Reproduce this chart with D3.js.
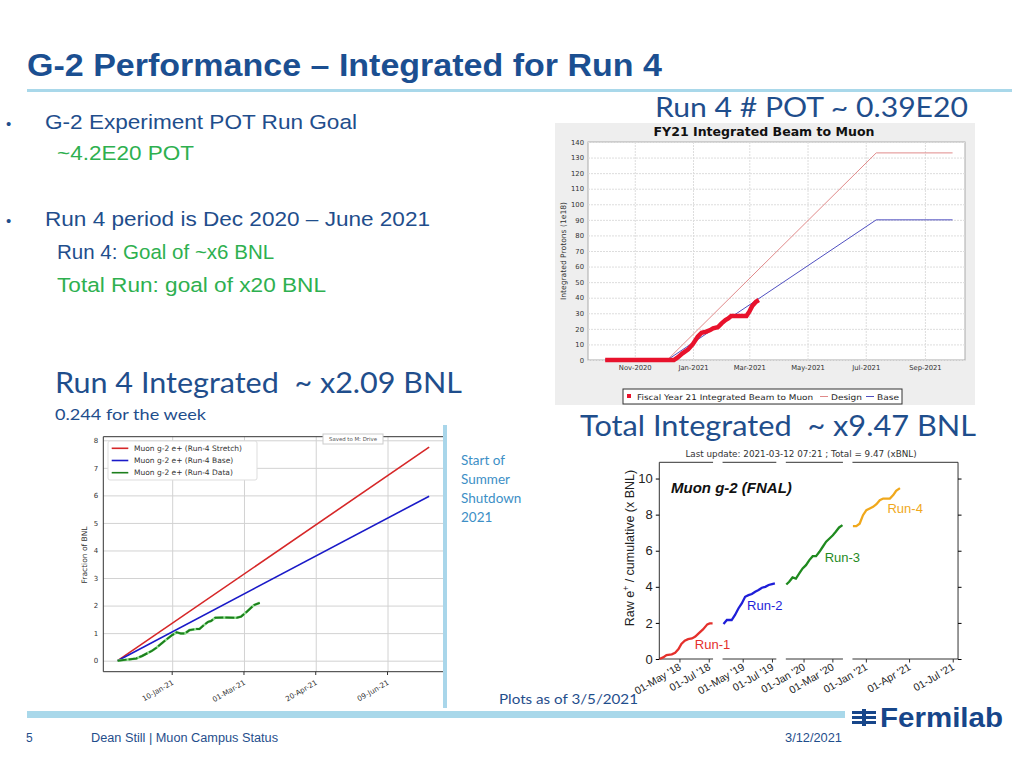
<!DOCTYPE html>
<html>
<head>
<meta charset="utf-8">
<script src="https://cdn.jsdelivr.net/npm/d3@7"></script>
<style>
  body { margin: 0; background: #fff; }
  svg { display: block; }
  text { font-family: 'Liberation Sans', Arial, sans-serif; }
  .chart text { font-family: 'DejaVu Sans', sans-serif; }
</style>
</head>
<body>
<svg id="slide" width="1024" height="768"></svg>
<script>
var parseDate = d3.timeParse('%Y-%m-%d');

// ---- FY21 integrated beam to muon (1e18 protons) ----
var fyDates = ['2020-10-01', '2020-12-12', '2020-12-16', '2020-12-21', '2020-12-27', '2021-01-01',
  '2021-01-06', '2021-01-10', '2021-01-15', '2021-01-19', '2021-01-22', '2021-01-27', '2021-01-31',
  '2021-02-04', '2021-02-07', '2021-02-10', '2021-02-15', '2021-02-20', '2021-02-26', '2021-03-01',
  '2021-03-04', '2021-03-08', '2021-03-11'];
var fyBeam = [0, 0, 1.7, 4.3, 6.8, 10.3, 15, 17.5, 18.2, 19.2, 20.3, 21, 23.5, 25.6, 26.7, 28.2,
  28.2, 28.2, 28.2, 31, 34.6, 37.4, 38.5];
var fyPlanDates = ['2020-10-01', '2020-12-05', '2021-07-12', '2021-09-30'];
var fyDesign = [0, 0, 133, 133];
var fyBase = [0, 0, 90, 90];
var fyTicks = ['2020-11-01', '2021-01-01', '2021-03-01', '2021-05-01', '2021-07-01', '2021-09-01'];
var fyLegend = ['Fiscal Year 21 Integrated Beam to Muon', 'Design', 'Base'];

// ---- Run-4 fraction of BNL ----
var r4PlanDates = ['2020-12-03', '2021-07-08'];
var r4Stretch = [0, 7.75];
var r4Base = [0, 5.97];
var r4Dates = ['2020-12-03', '2020-12-16', '2020-12-20', '2020-12-27', '2020-12-30', '2021-01-04',
  '2021-01-10', '2021-01-13', '2021-01-16', '2021-01-19', '2021-01-22', '2021-01-27', '2021-01-29',
  '2021-02-01', '2021-02-04', '2021-02-06', '2021-02-09', '2021-02-15', '2021-02-24', '2021-02-27',
  '2021-03-03', '2021-03-08', '2021-03-12'];
var r4Data = [0, 0.08, 0.17, 0.36, 0.47, 0.69, 0.93, 1.03, 0.99, 0.99, 1.11, 1.15, 1.15, 1.29,
  1.41, 1.44, 1.56, 1.57, 1.56, 1.60, 1.78, 2.02, 2.10];
var r4Ticks = ['2021-01-10', '2021-03-01', '2021-04-20', '2021-06-09'];
var r4Legend = ['Muon g-2 e+ (Run-4 Stretch)', 'Muon g-2 e+ (Run-4 Base)', 'Muon g-2 e+ (Run-4 Data)'];

// ---- all runs, cumulative x BNL ----
var runNames = ['Run-1', 'Run-2', 'Run-3', 'Run-4'];
var runSpans = [['2018-03-19', '2018-07-09'], ['2019-03-19', '2019-07-09'],
  ['2019-11-24', '2020-03-22'], ['2020-12-03', '2021-07-11']];
var runTicks = [['2018-05-01', '2018-07-01'], ['2019-05-01', '2019-07-01'],
  ['2020-01-01', '2020-03-01'], ['2021-01-01', '2021-04-01', '2021-07-01']];
var run1Dates = ['2018-03-19', '2018-03-27', '2018-04-03', '2018-04-14', '2018-04-21', '2018-04-28',
  '2018-05-04', '2018-05-11', '2018-05-18', '2018-05-26', '2018-06-02', '2018-06-09', '2018-06-18',
  '2018-06-27', '2018-07-02', '2018-07-08'];
var run1Vals = [0, 0.09, 0.22, 0.26, 0.35, 0.55, 0.83, 1.01, 1.1, 1.14, 1.24, 1.42, 1.64, 1.92, 1.97, 1.97];
var run2Dates = ['2019-03-21', '2019-03-28', '2019-04-07', '2019-04-14', '2019-04-21', '2019-04-28',
  '2019-05-05', '2019-05-12', '2019-05-19', '2019-05-26', '2019-06-02', '2019-06-09', '2019-06-16',
  '2019-06-23', '2019-06-30', '2019-07-06'];
var run2Vals = [1.94, 2.16, 2.16, 2.44, 2.8, 3.08, 3.45, 3.54, 3.6, 3.73, 3.82, 3.95, 4.0, 4.1, 4.15, 4.19];
var run3Dates = ['2019-11-25', '2019-12-01', '2019-12-08', '2019-12-15', '2019-12-22', '2019-12-29',
  '2020-01-05', '2020-01-12', '2020-01-19', '2020-01-26', '2020-02-02', '2020-02-09', '2020-02-16',
  '2020-02-23', '2020-03-01', '2020-03-07', '2020-03-14', '2020-03-21'];
var run3Vals = [4.13, 4.28, 4.52, 4.46, 4.74, 5.02, 5.2, 5.48, 5.7, 5.7, 5.94, 6.22, 6.5, 6.68, 6.86,
  7.05, 7.29, 7.42];
var run4Dates = ['2020-12-04', '2020-12-11', '2020-12-18', '2020-12-25', '2021-01-01', '2021-01-08',
  '2021-01-15', '2021-01-22', '2021-01-29', '2021-02-05', '2021-02-12', '2021-02-19', '2021-02-26',
  '2021-03-04', '2021-03-12'];
var run4Vals = [7.36, 7.36, 7.5, 7.97, 8.25, 8.34, 8.43, 8.58, 8.8, 8.89, 8.89, 8.89, 9.08, 9.32, 9.47];

var zip = function(dates, vals) {
  return dates.map(function(d, i) { return {date: parseDate(d), value: vals[i]}; });
};

var svg = d3.select('#slide');
var BLUE = '#1f4e8c';
var GREEN = '#2eb04f';

// ---------- slide text ----------
var addText = function(x, y, str, size, color, len, family) {
  var t = svg.append('text').attr('x', x).attr('y', y).attr('font-size', size)
    .attr('fill', color).style('white-space', 'pre').text(str);
  if (len) t.attr('textLength', len).attr('lengthAdjust', 'spacingAndGlyphs');
  if (family) t.style('font-family', family);
  return t;
};

addText(27, 76, 'G-2 Performance – Integrated for Run 4', 31, '#1b4f91', 635).attr('font-weight', 'bold');
svg.append('rect').attr('x', 27).attr('y', 89).attr('width', 985).attr('height', 3).attr('fill', '#a9d8ea');
addText(655, 117, 'Run 4 # POT ~ 0.39E20', 27, BLUE, 313, 'Lato');

addText(6, 129, '•', 15, BLUE);
addText(45, 129, 'G-2 Experiment POT Run Goal', 20.5, BLUE, 312);
addText(57, 160, '~4.2E20 POT', 20.5, GREEN, 137);
addText(6, 226, '•', 15, BLUE);
addText(45, 226, 'Run 4 period is Dec 2020 – June 2021', 20.5, BLUE, 385);
var goal = addText(57, 259, 'Run 4: ', 20.5, BLUE);
goal.append('tspan').attr('fill', GREEN).text('Goal of ~x6 BNL');
addText(57, 292, 'Total Run: goal of x20 BNL', 20.5, GREEN, 269);

addText(55, 393, 'Run 4 Integrated  ~ x2.09 BNL', 29, BLUE, 407, 'Lato');
addText(55, 420, '0.244 for the week', 16, BLUE, 151, 'Lato');
addText(580, 436, 'Total Integrated  ~ x9.47 BNL', 29, BLUE, 396, 'Lato');
['Start of', 'Summer', 'Shutdown', '2021'].forEach(function(s, i) {
  addText(461, 465 + i * 19, s, 13.5, '#3d8fc6', null, 'Lato');
});

// ---------- FY21 chart (top right) ----------
var fyG = svg.append('g').attr('class', 'chart');
fyG.append('rect').attr('x', 555).attr('y', 123).attr('width', 420).attr('height', 282).attr('fill', '#eeeeee');
var fyX = d3.scaleTime().domain([parseDate('2020-09-13'), parseDate('2021-10-13')]).range([588, 965]);
var fyY = d3.scaleLinear().domain([0, 140]).range([360, 142]);
fyG.append('rect').attr('x', 588).attr('y', 142).attr('width', 377).attr('height', 218)
  .attr('fill', '#fff').attr('stroke', '#aaa');

var fyYAxis = fyG.append('g').attr('transform', 'translate(588,0)')
  .call(d3.axisLeft(fyY).tickValues(d3.range(0, 141, 10)).tickSize(-377).tickPadding(4));
var fyXAxis = fyG.append('g').attr('transform', 'translate(0,360)')
  .call(d3.axisBottom(fyX).tickValues(fyTicks.map(parseDate)).tickSize(-218).tickPadding(5)
    .tickFormat(d3.timeFormat('%b-%Y')));
[fyYAxis, fyXAxis].forEach(function(a) {
  a.select('.domain').remove();
  a.selectAll('line').attr('stroke', '#ddd').attr('stroke-dasharray', '2,1');
  a.selectAll('text').attr('font-size', 6.8).attr('fill', '#333').style('font-family', 'DejaVu Sans');
});

var fyLine = d3.line().x(function(d) { return fyX(d.date); }).y(function(d) { return fyY(d.value); });
fyG.append('path').attr('d', fyLine(zip(fyPlanDates, fyDesign))).attr('fill', 'none')
  .attr('stroke', '#e08a8a').attr('stroke-width', 1);
fyG.append('path').attr('d', fyLine(zip(fyPlanDates, fyBase))).attr('fill', 'none')
  .attr('stroke', '#5050c0').attr('stroke-width', 1);
fyG.append('path').attr('d', fyLine(zip(fyDates, fyBeam))).attr('fill', 'none')
  .attr('stroke', '#e8122c').attr('stroke-width', 4.5).attr('stroke-linejoin', 'miter');

fyG.append('text').attr('x', 764).attr('y', 136).attr('text-anchor', 'middle').attr('font-size', 11.6)
  .attr('font-weight', 'bold').attr('fill', '#111').attr('textLength', 221)
  .attr('lengthAdjust', 'spacingAndGlyphs').text('FY21 Integrated Beam to Muon');
fyG.append('text').attr('transform', 'translate(566,251) rotate(-90)').attr('text-anchor', 'middle')
  .attr('font-size', 7.6).attr('fill', '#333').text('Integrated Protons (1e18)');

fyG.append('rect').attr('x', 623).attr('y', 389).attr('width', 279).attr('height', 15)
  .attr('fill', '#fff').attr('stroke', '#333');
fyG.append('rect').attr('x', 627).attr('y', 394).attr('width', 4).attr('height', 4).attr('fill', '#e8122c');
fyG.append('line').attr('x1', 820).attr('x2', 828).attr('y1', 396.5).attr('y2', 396.5).attr('stroke', '#e08a8a');
fyG.append('line').attr('x1', 866).attr('x2', 874).attr('y1', 396.5).attr('y2', 396.5).attr('stroke', '#5050c0');
[[637, 176], [831, 31], [877, 22]].forEach(function(p, i) {
  fyG.append('text').attr('x', p[0]).attr('y', 399.5).attr('font-size', 7.8).attr('fill', '#222')
    .attr('textLength', p[1]).attr('lengthAdjust', 'spacingAndGlyphs').text(fyLegend[i]);
});

// ---------- Run-4 chart (bottom left) ----------
var r4G = svg.append('g').attr('class', 'chart');
var r4X = d3.scaleTime().domain([parseDate('2020-11-23'), parseDate('2021-07-18')]).range([103.3, 443.5]);
var r4Y = d3.scaleLinear().domain([-0.4, 8.13]).range([671.7, 436.7]);

var r4YAxis = r4G.append('g').attr('transform', 'translate(103.3,0)')
  .call(d3.axisLeft(r4Y).tickValues(d3.range(0, 9)).tickSize(-340).tickPadding(5));
var r4XAxis = r4G.append('g').attr('transform', 'translate(0,671.7)')
  .call(d3.axisBottom(r4X).tickValues(r4Ticks.map(parseDate)).tickSize(-235).tickFormat(''));
[r4YAxis, r4XAxis].forEach(function(a) {
  a.select('.domain').remove();
  a.selectAll('line').attr('stroke', '#d2d2d2');
  a.selectAll('text').attr('font-size', 7).attr('fill', '#333').style('font-family', 'DejaVu Sans');
});
r4G.selectAll('.xlab').data(r4Ticks).enter().append('text')
  .attr('transform', function(d) { return 'translate(' + (r4X(parseDate(d)) + 2) + ',684) rotate(-30)'; })
  .attr('text-anchor', 'end').attr('font-size', 7.2).attr('fill', '#333')
  .text(function(d) { return d3.timeFormat('%d-%b-%y')(parseDate(d)); });
r4G.selectAll('.xtick').data(r4Ticks).enter().append('line')
  .attr('x1', function(d) { return r4X(parseDate(d)); }).attr('x2', function(d) { return r4X(parseDate(d)); })
  .attr('y1', 671.7).attr('y2', 675).attr('stroke', '#333');
r4G.append('path').attr('d', 'M103.3,436.7 V671.7 H443.5 M103.3,436.7 H443.5')
  .attr('fill', 'none').attr('stroke', '#333');

var r4Line = d3.line().x(function(d) { return r4X(d.date); }).y(function(d) { return r4Y(d.value); });
r4G.append('path').attr('d', r4Line(zip(r4PlanDates, r4Stretch))).attr('fill', 'none')
  .attr('stroke', '#d62728').attr('stroke-width', 1.6);
r4G.append('path').attr('d', r4Line(zip(r4PlanDates, r4Base))).attr('fill', 'none')
  .attr('stroke', '#1a1ac8').attr('stroke-width', 1.6);
r4G.append('path').attr('d', r4Line(zip(r4Dates, r4Data))).attr('fill', 'none')
  .attr('stroke', '#8ede8e').attr('stroke-width', 2.6);
r4G.append('path').attr('d', r4Line(zip(r4Dates, r4Data))).attr('fill', 'none')
  .attr('stroke', '#1c7f1c').attr('stroke-width', 2).attr('stroke-dasharray', '9,2');

r4G.append('text').attr('transform', 'translate(87,555) rotate(-90)').attr('text-anchor', 'middle')
  .attr('font-size', 7.5).attr('fill', '#333').text('Fraction of BNL');

r4G.append('rect').attr('x', 108).attr('y', 441).attr('width', 149).attr('height', 39).attr('rx', 2)
  .attr('fill', '#fff').attr('stroke', '#ddd');
['#d62728', '#1a1ac8', '#1c7f1c'].forEach(function(c, i) {
  var y = 448.3 + i * 12.2;
  r4G.append('line').attr('x1', 111.7).attr('x2', 128.3).attr('y1', y).attr('y2', y)
    .attr('stroke', c).attr('stroke-width', 1.6);
  r4G.append('text').attr('x', 134).attr('y', y).attr('dy', '0.35em').attr('font-size', 7.5)
    .attr('fill', '#333').text(r4Legend[i]);
});
r4G.append('rect').attr('x', 323).attr('y', 434).attr('width', 60).attr('height', 10)
  .attr('fill', '#fff').attr('stroke', '#ccc');
r4G.append('text').attr('x', 353).attr('y', 441.3).attr('text-anchor', 'middle').attr('font-size', 5.4)
  .attr('fill', '#555').text('Saved to M: Drive');
svg.append('rect').attr('x', 443).attr('y', 425).attr('width', 4).attr('height', 283).attr('fill', '#a9d6ea');

// ---------- all runs chart (bottom right) ----------
var arG = svg.append('g').attr('class', 'chart');
var arY = d3.scaleLinear().domain([0, 10.9]).range([659, 462.3]);
var pxPerDay = 0.48, gap = 9.5;
var runColors = ['#e4302c', '#1e1ed8', '#1f8a1f', '#f0a81c'];
var runData = [zip(run1Dates, run1Vals), zip(run2Dates, run2Vals), zip(run3Dates, run3Vals), zip(run4Dates, run4Vals)];
var runLabelAt = [['2018-06-01', 0.55], ['2019-05-09', 2.7], ['2020-02-13', 5.4], ['2021-02-14', 8.1]];

var x0 = 659.3;
var panels = runSpans.map(function(s) {
  var a = parseDate(s[0]), b = parseDate(s[1]);
  var w = (b - a) / 864e5 * pxPerDay;
  var sc = d3.scaleTime().domain([a, b]).range([x0, x0 + w]);
  x0 += w + gap;
  return sc;
});

panels.forEach(function(sc, i) {
  var r = sc.range();
  arG.append('line').attr('x1', r[0]).attr('x2', r[1]).attr('y1', 659).attr('y2', 659).attr('stroke', '#333');
  arG.append('line').attr('x1', r[0]).attr('x2', r[1]).attr('y1', 462.3).attr('y2', 462.3).attr('stroke', '#333');
  var ticks = runTicks[i].map(parseDate);
  arG.selectAll(null).data(ticks).enter().append('line')
    .attr('x1', function(d) { return sc(d); }).attr('x2', function(d) { return sc(d); })
    .attr('y1', 659).attr('y2', 662.5).attr('stroke', '#333');
  arG.selectAll(null).data(ticks).enter().append('text')
    .attr('transform', function(d) { return 'translate(' + (sc(d) + 2) + ',669) rotate(-30)'; })
    .attr('text-anchor', 'end').attr('font-size', 10.5).attr('fill', '#222')
    .style('font-family', 'Liberation Sans, Arial, sans-serif')
    .text(function(d) { return d3.timeFormat("%d-%b '%y")(d); });

  var line = d3.line().x(function(d) { return sc(d.date); }).y(function(d) { return arY(d.value); });
  arG.append('path').attr('d', line(runData[i])).attr('fill', 'none')
    .attr('stroke', runColors[i]).attr('stroke-width', 2.3);
  arG.append('text').attr('x', sc(parseDate(runLabelAt[i][0]))).attr('y', arY(runLabelAt[i][1]))
    .attr('font-size', 13).attr('fill', runColors[i])
    .style('font-family', 'Liberation Sans, Arial, sans-serif').text(runNames[i]);
});

var pFirst = panels[0].range(), pLast = panels[3].range();
arG.append('g').attr('transform', 'translate(' + pFirst[0] + ',0)')
  .call(d3.axisLeft(arY).tickValues(d3.range(0, 11, 2)).tickSize(3.5).tickPadding(3))
  .call(function(a) {
    a.select('.domain').attr('d', 'M0,659V462.3').attr('stroke', '#333');
    a.selectAll('text').attr('font-size', 13).attr('fill', '#222')
      .style('font-family', 'Liberation Sans, Arial, sans-serif');
  });
arG.append('g').attr('transform', 'translate(' + pLast[1] + ',0)')
  .call(d3.axisRight(arY).tickValues(d3.range(0, 11, 2)).tickSize(3.5).tickFormat(''))
  .call(function(a) { a.select('.domain').attr('d', 'M0,659V462.3').attr('stroke', '#333'); });

arG.append('text').attr('x', 801).attr('y', 457).attr('text-anchor', 'middle').attr('font-size', 8.8)
  .attr('fill', '#333').text('Last update: 2021-03-12 07:21 ; Total = 9.47 (xBNL)');
arG.append('text').attr('x', 671).attr('y', 493).attr('font-size', 15).attr('font-weight', 'bold')
  .attr('font-style', 'italic').attr('fill', '#111')
  .style('font-family', 'Liberation Sans, Arial, sans-serif').text('Muon g-2 (FNAL)');
var yl = arG.append('text').attr('transform', 'translate(634,548) rotate(-90)').attr('text-anchor', 'middle')
  .attr('font-size', 12.5).attr('fill', '#222').style('font-family', 'Liberation Sans, Arial, sans-serif')
  .text('Raw e');
yl.append('tspan').attr('baseline-shift', 'super').attr('font-size', 8.5).text('+');
yl.append('tspan').text(' / cumulative (x BNL)');

addText(499, 704, 'Plots as of 3/5/2021', 14, BLUE, 139, 'Lato');

// ---------- footer ----------
svg.append('rect').attr('x', 27).attr('y', 711).attr('width', 818).attr('height', 7).attr('fill', '#a9d8ea');
addText(26, 742, '5', 12, BLUE);
addText(91, 742, 'Dean Still | Muon Campus Status', 12, BLUE, 187);
addText(785, 742, '3/12/2021', 12, BLUE, 57);

var logo = svg.append('g').attr('fill', '#17468a');
[711, 716, 721].forEach(function(y) {
  logo.append('rect').attr('x', 852).attr('y', y).attr('width', 24).attr('height', 3);
});
logo.append('rect').attr('x', 862).attr('y', 709).attr('width', 4).attr('height', 17);
svg.append('clipPath').attr('id', 'logoclip').append('rect')
  .attr('x', 878).attr('y', 707).attr('width', 140).attr('height', 30);
addText(880, 727, 'Fermilab', 27, '#17468a', 123).attr('font-weight', 'bold')
  .attr('clip-path', 'url(#logoclip)');
</script>
</body>
</html>
